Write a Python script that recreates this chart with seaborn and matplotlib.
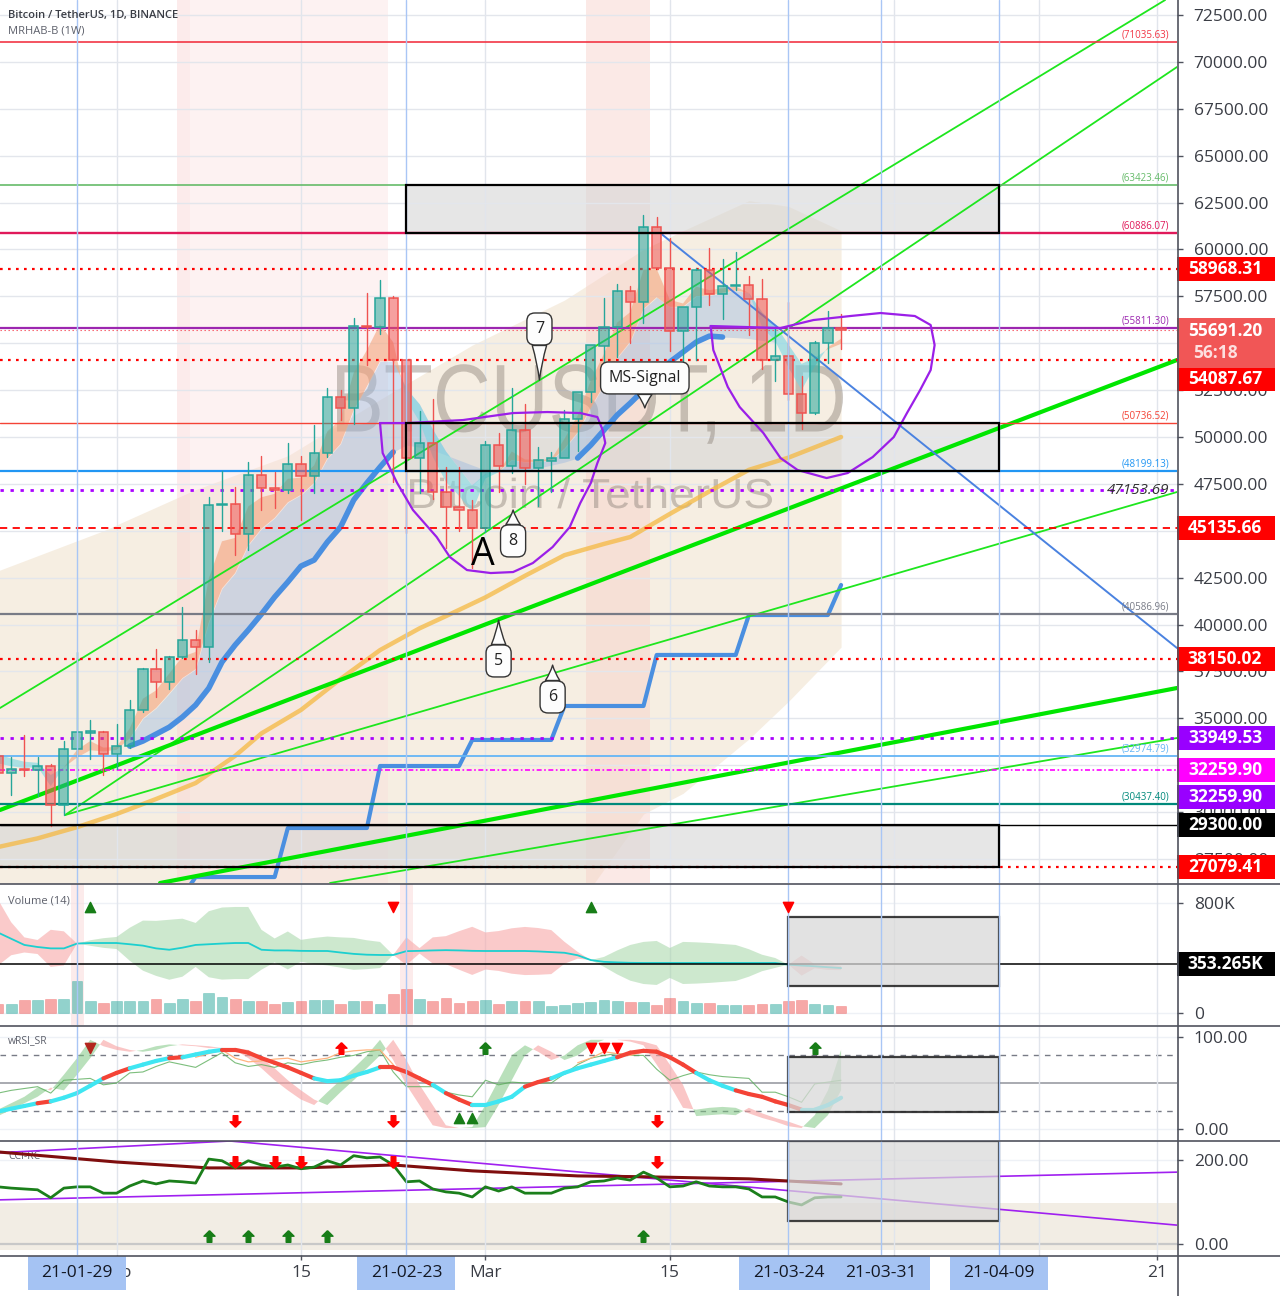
import numpy as np
import pandas as pd
import seaborn as sns
import matplotlib.pyplot as plt
from matplotlib.colors import to_rgba
from matplotlib.lines import Line2D
from matplotlib.patches import Rectangle, PathPatch
from matplotlib.path import Path
from matplotlib.textpath import TextPath
from matplotlib.font_manager import FontProperties
from matplotlib.transforms import blended_transform_factory, Affine2D

# ---------------- data (x = days counted from 2021-01-29) ----------------
days = list(range(-6, 59))          # 2021-01-23 .. 2021-03-28

opens = [32985, 32064, 32285, 32254, 32464, 30362, 33368, 34246, 34262, 33092,
         33517, 35472, 37620, 36936, 38289, 39181, 38795, 46374, 46420, 44807,
         47968, 47298, 47156, 48580, 47911, 49134, 52119, 51551, 55906, 55841,
         57413, 54087, 48891, 49676, 47057, 46277, 46104, 45135, 49595, 48437,
         50349, 48374, 48746, 48882, 50959, 52375, 54875, 55851, 57774, 57221,
         61188, 59000, 55654, 56927, 58925, 57644, 58030, 58101, 57351, 54083,
         54342, 52303, 51293, 55025, 55818]
highs = [33826, 32944, 34100, 32921, 32557, 33783, 38531, 34933, 34342, 34717,
         35984, 37662, 38708, 38310, 40955, 39700, 46794, 48200, 47310, 48678,
         48985, 48150, 49707, 49010, 50641, 52618, 52530, 56368, 57700, 58352,
         57534, 54183, 51374, 52041, 48424, 48394, 46638, 49790, 50200, 52640,
         51773, 49448, 49200, 51450, 52402, 54895, 57387, 58150, 58058, 61844,
         61724, 60633, 56938, 58999, 60100, 59468, 59880, 58592, 58430, 55830,
         57200, 53230, 55137, 56700, 56559]
lows = [31390, 30900, 31910, 30837, 29241, 29842, 31915, 32825, 32000, 32297,
        33418, 35362, 36161, 36570, 38215, 37351, 37988, 45000, 43727, 43994,
        46125, 46202, 47014, 45570, 47003, 48947, 50901, 50710, 53863, 55477,
        47622, 44892, 47003, 46674, 44106, 45000, 43000, 44950, 47047, 48100,
        47500, 46300, 47070, 48882, 49274, 51845, 53005, 54269, 55013, 56078,
        58966, 54600, 53271, 54124, 57023, 56270, 57820, 55450, 53650, 53000,
        52000, 50427, 51214, 53950, 54691]
closes = [32067, 32289, 32254, 32467, 30366, 33364, 34252, 34262, 33092, 33526,
          35466, 37618, 36936, 38290, 39186, 38795, 46375, 46420, 44807, 47969,
          47287, 47153, 48577, 47911, 49133, 52119, 51553, 55906, 55841, 57408,
          54087, 48891, 49676, 47073, 46277, 46107, 45135, 49587, 48440, 50349,
          48374, 48751, 48882, 50971, 52375, 54884, 55851, 57773, 57221, 61188,
          59000, 55655, 56927, 58925, 57644, 58030, 58102, 57351, 54083, 54340,
          52303, 51293, 55025, 55817, 55691]

# fast ribbon edges (orange when rising / cyan when falling)
rib_fast = [32600, 32450, 32350, 32410, 31390, 32380, 33320, 33790, 33440, 33480,
            34470, 36050, 36490, 37390, 38290, 38540, 42460, 44440, 44620, 46300,
            46790, 46970, 47770, 47840, 48490, 50300, 50930, 53420, 54630, 56020,
            55050, 51970, 50820, 48950, 47610, 46860, 46000, 47790, 48120, 49230,
            48800, 48780, 48830, 49900, 51140, 53010, 54430, 56100, 56660, 58920,
            58960, 57310, 57120, 58020, 57830, 57930, 58020, 57680, 55880, 55110,
            53710, 52500, 53760, 54790, 55240]
rib_slow = [33090, 32860, 32690, 32630, 31980, 32380, 32910, 33300, 33240, 33320,
            33930, 34990, 35550, 36330, 37150, 37620, 40120, 41920, 42750, 44240,
            45110, 45690, 46520, 46920, 47550, 48860, 49630, 51430, 52690, 54040,
            54050, 52580, 51750, 50410, 49230, 48340, 47420, 48040, 48150, 48780,
            48660, 48690, 48740, 49380, 50240, 51570, 52790, 54220, 55080, 56830,
            57450, 56940, 56940, 57510, 57550, 57690, 57810, 57680, 56650, 55990,
            54940, 53900, 54220, 54680, 54970]

# blue mid line (days 4..53), thick part only on days 4-24 and 38-49
mid_days = list(range(4, 54))
mid_line = [33520, 33790, 34160, 34530, 35070, 35710, 36610, 38000, 38910, 39710,
            40560, 41470, 42270, 43120, 43440, 44400, 45200, 46640, 47550, 48400,
            49200, 49570, 49460, 49300, 49040, 48770, 48500, 48240, 48130, 48130,
            48240, 48340, 48500, 48660, 48880, 49570, 50370, 51170, 51810, 52500,
            53140, 54000, 54530, 55060, 55380, 55330, 55300, 55250, 55150, 55050]
mid_shown = [(4, 24), (38, 49)]

# weekly step line
step_days = list(range(8, 59))
step_vals = [25500] + [26540] * 7 + [29155] * 7 + [32460] * 7 + [33850] * 7 + \
            [35660] * 7 + [38380] * 7 + [40510] * 7 + [42110]

# yellow slow average
sma_days = [-6, -3, 0, 3, 6, 9, 12, 14, 17, 20, 23, 26, 28, 31, 34, 37, 40, 42, 45, 48, 51, 54, 58]
sma_vals = [28140, 28600, 29200, 29900, 30700, 31550, 33000, 34200, 35450, 37100, 38640, 39800,
            40450, 41450, 42600, 43700, 44300, 44670, 45900, 47100, 48250, 48900, 50000]

# weekly cloud (beige)
cloud_days = [-7, 2, 9, 16, 23, 30, 37, 43, 46, 51, 54, 58]
cloud_top = [42600, 45000, 47200, 49000, 52000, 54900, 57300, 60000, 61000, 62600, 62300, 61000]
cloud_low = [24000, 24000, 24000, 24000, 24000, 24000, 24000, 29900, 31000, 33900, 35900, 38800]

# horizontal levels
level_prices = [71035.63, 63423.46, 60886.07, 58968.31, 55811.30, 55691.20, 54087.67, 50736.52,
                48199.13, 47153.69, 45135.66, 40586.96, 38150.02, 33949.53, 32974.79, 32259.90,
                30437.40, 29300.00, 27079.41]
level_colors = ['#f23645', '#66bb6a', '#e0195a', '#ff0000', '#9c27b0', '#f7525f', '#ff0000', '#f44336',
                '#2196f3', '#aa00ff', '#ff0000', '#787b86', '#ff0000', '#aa00ff', '#64b5f6', '#ff00ff',
                '#00897b', '#000000', '#ff0000']
level_styles = ['-', '-', '-', 'dot', '-', 'dot', 'dot', '-', '-', 'dot', 'dash', '-', 'dot', 'dot',
                '-', 'dashdot', '-', '-', 'dot']
level_widths = [1.2, 1.2, 1.7, 1.6, 1.6, 0.8, 1.6, 1.0, 1.6, 2.0, 1.3, 1.6, 1.6, 2.0, 1.3, 1.2, 1.6, 1.0, 1.6]
bracket_levels = [71035.63, 63423.46, 60886.07, 55811.30, 50736.52, 48199.13, 40586.96, 32974.79, 30437.40]

tag_prices = [58968.31, 54087.67, 45135.66, 38150.02, 33949.53, 32259.90, 32259.90, 29300.00, 27079.41]
tag_colors = ['#ff0000', '#ff0000', '#ff0000', '#ff0000', '#9900ff', '#ff00ff', '#9900ff', '#000000', '#ff0000']
tag_shift_px = [0, 19, 0, 0, 0, 0, 27, 0, 0]
last_price = 55691.20
countdown = '56:18'

# trend lines: (day0, price0, day1, price1)
green_thin = [(-5.85, 35552, 82.6, 73300), (-0.91, 29847, 83.5, 69728),
              (-0.91, 29847, 83.5, 47068), (19.2, 26222, 83.5, 33952)]
green_thick = [(-5.85, 30114, 83.5, 54106), (6.3, 26222, 83.5, 36618)]
blue_trend = (44.27, 60877, 83.5, 38750)

# boxes: (day0, day1, low, high)
price_boxes = [(25, 70, 60886.07, 63423.46), (25, 70, 48199.13, 50736.52), (-8, 70, 27079.41, 29300.00)]

# hand drawn loops
loop1_days = [23.0, 25.1, 29.3, 33.1, 35.7, 38.2, 39.5, 39.9, 40.1, 39.5, 39.0, 38.2, 37.4, 36.1,
              34.6, 33.1, 31.4, 29.6, 28.3, 27.3, 25.5, 24.3, 23.2, 23.0]
loop1_prices = [50745, 50745, 50905, 51278, 51332, 51278, 51065, 50372, 49679, 48613, 47546, 46480,
                45200, 44134, 43281, 42801, 42748, 42907, 43601, 44667, 46107, 47546, 49146, 50745]
loop2_days = [48.1, 53.4, 55.9, 58.7, 61.0, 63.6, 64.8, 65.1, 64.8, 64.0, 63.0, 62.0, 60.4, 58.5,
              56.9, 54.7, 53.4, 52.1, 50.3, 49.4, 48.3, 48.1]
loop2_prices = [55918, 55811, 56237, 56451, 56611, 56451, 55971, 54904, 53571, 52505, 51278, 49999,
                48933, 48080, 47813, 48240, 48880, 50213, 51599, 52666, 54638, 55918]

# callouts
callout_text = ['7', '8', '5', '6', 'MS-Signal']
callout_tip_day = [35.1, 33.1, 32.0, 36.1, 43.1]
callout_tip_price = [53040, 46110, 40240, 37840, 51550]
callout_box_price = [55760, 44460, 38060, 36140, 53150]

# volume panel (thousands)
volume_k = [65, 63, 92, 92, 100, 100, 233, 90, 70, 85,
            85, 85, 100, 70, 104, 85, 143, 116, 100, 90,
            90, 65, 78, 85, 95, 95, 65, 85, 85, 65,
            138, 175, 100, 85, 111, 70, 85, 92, 65, 85,
            85, 85, 51, 58, 70, 78, 95, 85, 78, 81,
            58, 109, 85, 70, 72, 58, 56, 56, 65, 65,
            85, 95, 65, 56, 48]
vol_ma = [585, 540, 495, 480, 470, 470, 505, 509, 509, 509,
          500, 490, 470, 460, 475, 495, 500, 505, 509, 509,
          460, 455, 455, 452, 451, 451, 440, 430, 424, 422,
          422, 450, 452, 455, 457, 455, 452, 451, 451, 451,
          451, 448, 443, 438, 420, 385, 372, 368, 365, 364,
          364, 364, 364, 364, 364, 364, 364, 364, 364, 364,
          352, 345, 340, 333, 327]
vol_dev = [240, 120, 55, 51, 135, 124, 0, 20, 35, 44,
           120, 182, 200, 218, 211, 160, 240, 262, 262, 262,
           145, 87, 138, 80, 95, 105, 110, 116, 105, 95,
           0, 100, 20, 95, 102, 140, 175, 135, 145, 165,
           175, 170, 160, 80, 25, 0, 36, 87, 130, 153,
           160, 109, 153, 150, 145, 138, 131, 100, 60, 36,
           0, 73, 15, 20, 15]
vol_side = 'r' * 6 + 'x' + 'g' * 23 + 'x' + 'r' * 14 + 'x' + 'g' * 14 + 'x' + 'r' * 4
vol_last = 353.265

# wRSI panel
wrsi_line = [19, 22, 25, 28, 30, 34, 39, 47, 55, 61, 66, 70, 74, 77, 78, 81, 84, 86, 86, 83,
             77, 72, 67, 61, 55, 52, 53, 58, 62, 67, 67, 62, 55, 48, 39, 32, 26, 26, 30, 35,
             46, 51, 55, 61, 66, 70, 74, 78, 83, 85, 84, 78, 70, 61, 53, 47, 42, 38, 35, 30,
             26, 21, 21, 26, 34]
wrsi_red_spans = [(-3, -2), (2, 4), (7, 8), (11, 18), (23, 27), (28, 30), (34, 36), (41, 47), (50, 55)]
wrsi_fast = [21, 28, 35, 45, 42, 59, 77, 97, 90, 86, 84, 86, 90, 92, 91, 90, 88, 88, 86, 77,
             66, 53, 42, 32, 26, 40, 53, 66, 80, 97, 75, 48, 26, 4, 1, 1, 2, 26, 53, 80,
             91, 84, 75, 80, 91, 97, 97, 97, 95, 91, 70, 48, 23, 21, 23, 24, 23, 17, 12, 8,
             3, 1, 15, 42, 86]
wrsi_slow = [14, 21, 28, 35, 45, 42, 59, 77, 97, 90, 86, 84, 86, 90, 92, 91, 90, 88, 88, 86,
             77, 66, 53, 42, 32, 26, 40, 53, 66, 80, 97, 75, 48, 26, 4, 1, 1, 2, 26, 53,
             80, 91, 84, 75, 80, 91, 97, 97, 97, 95, 91, 70, 48, 14, 15, 16, 15, 23, 17, 12,
             8, 3, 1, 15, 42]
wrsi_thin = [39, 42, 44, 46, 39, 53, 54, 55, 48, 50, 61, 62, 68, 73, 70, 67, 75, 83, 72, 68,
             70, 67, 72, 70, 73, 75, 78, 80, 84, 86, 62, 46, 46, 46, 40, 37, 35, 53, 48, 51,
             50, 50, 50, 60, 70, 77, 80, 82, 80, 80, 65, 53, 58, 62, 59, 57, 56, 55, 40, 40,
             35, 29, 49, 51, 53]
orange_days_a = list(range(9, 25))
orange_vals_a = [78, 82, 86, 77, 73, 74, 76, 77, 73, 75, 77, 83, 85, 86, 86, 70]
orange_days_b = list(range(38, 45))
orange_vals_b = [72, 77, 84, 82, 80, 84, 86]

# CCI panel
cci = [136, 133, 131, 129, 110, 133, 136, 136, 121, 121, 138, 150, 143, 150, 148, 145, 202, 198, 181, 198,
       188, 183, 188, 179, 183, 198, 188, 210, 205, 207, 188, 148, 150, 131, 124, 121, 112, 136, 126, 136,
       121, 121, 121, 133, 136, 148, 150, 157, 152, 171, 157, 136, 138, 148, 138, 136, 136, 131, 112, 112,
       100, 93, 110, 112, 112]
cci_slow_days = [-6, 3, 10, 17, 24, 30, 38, 43, 51, 58]
cci_slow = [219, 195, 181, 181, 188, 174, 162, 160, 155, 143]
cci_trend = [(-6, 217, 11.6, 245), (11.6, 245, 83.5, 45), (-6, 105, 83.5, 171)]

# signal markers
vol_up_days, vol_dn_days = [1, 39], [24, 54]
rsi_red_up, rsi_red_dn, rsi_green_up = [20], [12, 24, 44], [31, 56]
rsi_tri_up, rsi_tri_dn, rsi_tri_dark = [29, 30], [39, 40, 41], [1]
cci_red_dn, cci_green_up = [12, 15, 17, 24, 44], [10, 13, 16, 19, 43]

blue_vlines = [0, 25, 54, 61, 70]
grid_days = [3, 17, 31, 45, 62, 73, 82]
grid_labels = ['Feb', '15', 'Mar', '15', '', '', '21']
sel_labels = ['21-01-29', '21-02-23', '21-03-24', '21-03-31', '21-04-09']

# ---------------- style ----------------
sns.set_style('white')
plt.rcParams['font.family'] = ['Open Sans', 'DejaVu Sans']
UP, DN = '#26a69a', '#ef5350'
AXC = '#3a3d45'

fig = plt.figure(figsize=(12.8, 12.96), dpi=100)
FW, FH = 1280, 1296


def panel(top, bottom):
    return fig.add_axes([0, 1 - bottom / FH, 1177 / FW, (bottom - top) / FH])


ax = panel(0, 883)
axv = panel(884, 1025)
axr = panel(1026, 1140)
axc = panel(1141, 1255)

for a in (ax, axv, axr, axc):
    a.set_xlim(-5.85, 83.5)
    for s in a.spines.values():
        s.set_visible(False)
    a.yaxis.tick_right()
    a.tick_params(axis='y', length=4, width=1, color='#50535e', pad=8, labelsize=12.5, labelcolor=AXC)
    a.tick_params(axis='x', bottom=False, labelbottom=False)
    for d in grid_days:
        a.axvline(d, color='#e1e5ec', lw=1, zorder=1.5)
    for d in blue_vlines:
        a.axvline(d, color='#a9c6f5', lw=1, zorder=6.8)

# ---------------- main price panel ----------------
ax.set_ylim(26222, 73300)
PX = (73300 - 26222) / 883.0          # price per pixel
yt = np.arange(27500, 72501, 2500)
ax.set_yticks(yt)
ax.set_yticklabels([f'{v:.2f}' for v in yt])
for v in yt:
    ax.axhline(v, color='#e3e6ec', lw=1, zorder=1.5)

ax.fill_between(cloud_days, cloud_low, cloud_top, color='#f1e3cf', alpha=0.6, lw=0, zorder=0.6)
ax.axvspan(7.6, 8.6, color='#f9d4d4', alpha=0.45, lw=0, zorder=0.7)
ax.axvspan(8.6, 23.6, color='#fbdcdc', alpha=0.35, lw=0, zorder=0.7)
ax.axvspan(38.6, 43.5, color='#f7cfc8', alpha=0.45, lw=0, zorder=0.7)

for d0, d1, lo, hi in price_boxes:
    ax.add_patch(Rectangle((d0, lo), d1 - d0, hi - lo, fc='#d6d6d6', alpha=0.6, ec='none', zorder=1))
    ax.add_patch(Rectangle((d0, lo), d1 - d0, hi - lo, fc='none', ec='black', lw=1.6, zorder=8))


def watermark(text, cx, cy, width_px, cap_px):
    tp = TextPath((0, 0), text, size=1, prop=FontProperties(family='Liberation Sans'))
    bb = tp.get_extents()
    sx = (width_px / 1177) / bb.width
    sy = (cap_px / 883) / 0.716
    tr = Affine2D().translate(-(bb.x0 + bb.width / 2), -0.358).scale(sx, sy).translate(cx, cy) + ax.transAxes
    ax.add_patch(PathPatch(tp, transform=tr, fc='#8c8279', ec='none', alpha=0.45, zorder=2))


watermark('BTCUSDT, 1D', 590 / 1177, 1 - 397 / 883, 506, 69)
watermark('Bitcoin / TetherUS', 591 / 1177, 1 - 493 / 883, 362, 30)

fast = np.array(rib_fast)
slow = np.array(rib_slow)
ax.fill_between(days, fast, slow, where=fast >= slow, interpolate=True, color='#f4a47c', alpha=0.6, lw=0, zorder=2.2)
ax.fill_between(days, fast, slow, where=fast < slow, interpolate=True, color='#7ad6e3', alpha=0.6, lw=0, zorder=2.2)
slow_mid = [rib_slow[days.index(d)] for d in mid_days]
ax.fill_between(mid_days, mid_line, slow_mid, color='#9ebbe0', alpha=0.45, lw=0, zorder=2.1)
for a0, a1 in mid_shown:
    i0, i1 = mid_days.index(a0), mid_days.index(a1) + 1
    ax.plot(mid_days[i0:i1], mid_line[i0:i1], color='#4a8fe0', lw=4, solid_capstyle='round', zorder=3)

sns.lineplot(x=sma_days, y=sma_vals, ax=ax, color='#f5b942', alpha=0.75, lw=3.2, zorder=3, legend=False)
ax.plot(step_days, step_vals, color='#4a8fe0', lw=3, zorder=3.5)

for d0, p0, d1, p1 in green_thin:
    ax.plot([d0, d1], [p0, p1], color='#1ee61e', lw=1.3, zorder=4)
for d0, p0, d1, p1 in green_thick:
    ax.plot([d0, d1], [p0, p1], color='#00e600', lw=3, zorder=4)
ax.plot([blue_trend[0], blue_trend[2]], [blue_trend[1], blue_trend[3]], color='#4a82e0', lw=1.4, zorder=4)

dash_map = {'-': '-', 'dot': (0, (1.2, 2.4)), 'dash': (0, (4, 3)), 'dashdot': (0, (3, 1.5, 1, 1.5))}
for p, c, s, w in zip(level_prices, level_colors, level_styles, level_widths):
    ax.axhline(p, color=c, ls=dash_map[s], lw=w, zorder=4.5)
tr_lab = blended_transform_factory(ax.transAxes, ax.transData)
for p in bracket_levels:
    c = level_colors[level_prices.index(p)]
    ax.text(0.9935, p + 1.5 * PX, f'({p:.2f})', transform=tr_lab, ha='right', va='bottom',
            fontsize=7, color=c, zorder=9)
ax.text(0.9935, 47153.69, '47153.69', transform=tr_lab, ha='right', va='center',
        fontsize=11, style='italic', color='#333333', zorder=9)

# candles
for d, o, h, l, c in zip(days, opens, highs, lows, closes):
    col = UP if c >= o else DN
    top, bot = max(o, c), min(o, c)
    ax.plot([d, d], [top, h], color=col, lw=1, zorder=6)
    ax.plot([d, d], [l, bot], color=col, lw=1, zorder=6)
    ax.add_patch(Rectangle((d - 0.35, bot), 0.7, max(top - bot, 60), fc=to_rgba(col, 0.55),
                           ec=col, lw=1.1, zorder=6.5))

ax.plot(loop1_days, loop1_prices, color='#9b1fe8', lw=1.6, zorder=7)
ax.plot(loop2_days, loop2_prices, color='#9b1fe8', lw=1.6, zorder=7)

for t, td, tp, bp in zip(callout_text, callout_tip_day, callout_tip_price, callout_box_price):
    ax.annotate(t, xy=(td, tp), xytext=(td, bp), ha='center', va='center', fontsize=11.5, color='#222',
                bbox=dict(boxstyle='round,pad=0.5', fc='#fdfdfd', ec='#333', lw=1),
                arrowprops=dict(arrowstyle='wedge,tail_width=0.9,shrink_factor=0.4', fc='#fdfdfd',
                                ec='#333', lw=1, shrinkA=0, shrinkB=0), zorder=10)
ax.text(30.8, 43700, 'A', ha='center', va='center', fontsize=27, color='black', zorder=10)

ax.text(0.0068, 0.983, 'Bitcoin / TetherUS, 1D, BINANCE', transform=ax.transAxes, fontsize=8,
        fontweight='semibold', color='#3a3d45', va='center', zorder=12)
ax.text(0.0068, 0.965, 'MRHAB-B (1W)', transform=ax.transAxes, fontsize=8, color='#5d606b',
        va='center', zorder=12)


def tag(a, y, text, color, half_h, fs=12.5):
    tr = blended_transform_factory(a.transAxes, a.transData)
    a.add_patch(Rectangle((1.0, y - half_h), 98 / 1177, 2 * half_h, transform=tr, fc=color,
                          ec='none', clip_on=False, zorder=30))
    a.text(1.0 + 48 / 1177, y, text, transform=tr, ha='center', va='center', color='white',
           fontsize=fs, fontweight='bold', zorder=31, clip_on=False)


for p, c, sh in zip(tag_prices, tag_colors, tag_shift_px):
    tag(ax, p - sh * PX, f'{p:.2f}', c, 12 * PX)
trm = blended_transform_factory(ax.transAxes, ax.transData)
ax.add_patch(Rectangle((1.0, last_price - 38 * PX), 98 / 1177, 50 * PX, transform=trm, fc='#f15656',
                       ec='none', clip_on=False, zorder=30))
ax.text(1.0 + 48 / 1177, last_price - 0.5 * PX, f'{last_price:.2f}', transform=trm, ha='center',
        va='center', color='white', fontsize=12.5, fontweight='bold', zorder=31, clip_on=False)
ax.text(1.0 + 38 / 1177, last_price - 23 * PX, countdown, transform=trm, ha='center', va='center',
        color='#fde0e0', fontsize=12.5, fontweight='bold', zorder=31, clip_on=False)

# ---------------- volume panel ----------------
axv.set_ylim(-87, 938)
axv.set_yticks([0, 800])
axv.set_yticklabels(['0', '800K'])
axv.axhline(800, color='#eef1f6', lw=1, zorder=0)
axv.axhline(0, color='#eef1f6', lw=1, zorder=0)
axv.axvspan(-0.45, 0.5, color='#fbdcdc', alpha=0.55, lw=0, zorder=0.6)
axv.axvspan(24.55, 25.5, color='#fbdcdc', alpha=0.55, lw=0, zorder=0.6)
vcols = [UP if c >= o else DN for o, c in zip(opens, closes)]
axv.bar(days, volume_k, width=0.82, color=[to_rgba(c, 0.5) for c in vcols],
        edgecolor=[to_rgba(c, 0.35) for c in vcols], lw=0.6, zorder=2)
ma = np.array(vol_ma)
dev = np.array(vol_dev)
g_mask = np.array([s in 'gx' for s in vol_side])
r_mask = np.array([s in 'rx' for s in vol_side])
axv.fill_between(days, ma - dev, ma + dev, where=g_mask, color='#a5d6a7', alpha=0.55, lw=0, zorder=1.5)
axv.fill_between(days, ma - dev, ma + dev, where=r_mask, color='#f7a8a8', alpha=0.6, lw=0, zorder=1.5)
sns.lineplot(x=days, y=vol_ma, ax=axv, color='#1ccfcf', lw=1.3, zorder=3, legend=False)
axv.axhline(vol_last, color='black', lw=1.1, zorder=4)
axv.add_patch(Rectangle((54, 196), 16, 502, fc='#d9d9d9', alpha=0.75, ec='black', lw=1.6, zorder=5))
axv.scatter(vol_up_days, [770] * len(vol_up_days), marker='^', s=55, color='#177d17', zorder=7)
axv.scatter(vol_dn_days, [770] * len(vol_dn_days), marker='v', s=55, color='#ff0000', zorder=7)
axv.text(0.0068, 0.88, 'Volume (14)', transform=axv.transAxes, fontsize=8, color='#5d606b', va='center')
tag(axv, vol_last, f'{vol_last:.3f}K', '#000000', 12 / 0.1375)

# ---------------- wRSI panel ----------------
up_arrow = Path([(0, 1), (0.95, 0.05), (0.4, 0.05), (0.4, -1), (-0.4, -1), (-0.4, 0.05), (-0.95, 0.05), (0, 1)])
dn_arrow = Path([(x, -y) for x, y in up_arrow.vertices])

axr.set_ylim(-12, 112)
axr.set_yticks([0, 100])
axr.set_yticklabels(['0.00', '100.00'])
axr.axhline(100, color='#eef1f6', lw=1, zorder=0)
axr.axhline(0, color='#eef1f6', lw=1, zorder=0)
axr.axhline(80, color='#787b86', lw=1, ls=(0, (4, 4)), zorder=1)
axr.axhline(20, color='#787b86', lw=1, ls=(0, (4, 4)), zorder=1)
axr.axhline(50, color='#9a9ca3', lw=1.2, zorder=1)
wf = np.array(wrsi_fast)
ws = np.array(wrsi_slow)
axr.fill_between(days, wf, ws, where=wf >= ws, interpolate=True, color='#81c784', alpha=0.55, lw=0, zorder=2)
axr.fill_between(days, wf, ws, where=wf < ws, interpolate=True, color='#f8a0a0', alpha=0.6, lw=0, zorder=2)
axr.plot(days, wrsi_thin, color='#5cae5c', lw=0.8, alpha=0.8, zorder=3)
axr.plot(orange_days_a, orange_vals_a, color='#ffb37f', lw=0.9, zorder=3)
axr.plot(orange_days_b, orange_vals_b, color='#ffb37f', lw=0.9, zorder=3)
red_days = set()
for a0, a1 in wrsi_red_spans:
    red_days.update(range(a0, a1))
for i in range(len(days) - 1):
    col = '#f44336' if days[i] in red_days else '#3fe6f2'
    axr.plot(days[i:i + 2], wrsi_line[i:i + 2], color=col, lw=3, solid_capstyle='round', zorder=4)
axr.add_patch(Rectangle((54, 18.5), 16, 59.8, fc='#d9d9d9', alpha=0.75, ec='black', lw=1.6, zorder=5))
axr.scatter(rsi_red_up, [88] * len(rsi_red_up), marker=up_arrow, s=70, color='#ff0000', zorder=7)
axr.scatter(rsi_green_up, [88] * len(rsi_green_up), marker=up_arrow, s=70, color='#177d17', zorder=7)
axr.scatter(rsi_red_dn, [9] * len(rsi_red_dn), marker=dn_arrow, s=70, color='#ff0000', zorder=7)
axr.scatter(rsi_tri_up, [12] * len(rsi_tri_up), marker='^', s=55, color='#177d17', zorder=7)
axr.scatter(rsi_tri_dn, [88] * len(rsi_tri_dn), marker='v', s=55, color='#ff0000', zorder=7)
axr.scatter(rsi_tri_dark, [88] * len(rsi_tri_dark), marker='v', s=55, color='#b3261e', zorder=7)
axr.text(0.0068, 0.87, 'wRSI_SR', transform=axr.transAxes, fontsize=7.5, color='#5d606b', va='center')

# ---------------- CCI panel ----------------
axc.set_ylim(-26, 245)
axc.set_yticks([0, 200])
axc.set_yticklabels(['0.00', '200.00'])
axc.axhline(200, color='#eef1f6', lw=1, zorder=0)
axc.axhspan(-14, 98, color='#f2ede4', lw=0, zorder=0.4)
axc.axhline(0, color='#c8c8c8', lw=1.6, zorder=0.8)
for d0, v0, d1, v1 in cci_trend:
    axc.plot([d0, d1], [v0, v1], color='#a020f0', lw=1.2, zorder=2)
sns.lineplot(x=cci_slow_days, y=cci_slow, ax=axc, color='#7f0e0e', lw=2.2, zorder=3, legend=False)
sns.lineplot(x=days, y=cci, ax=axc, color='#1b7f1b', lw=2, zorder=4, legend=False)
axc.add_patch(Rectangle((54, 55), 16, 190, fc='#d9d9d9', alpha=0.72, ec='black', lw=1.6, zorder=5))
axc.scatter(cci_red_dn, [195] * len(cci_red_dn), marker=dn_arrow, s=70, color='#ff0000', zorder=7)
axc.scatter(cci_green_up, [19] * len(cci_green_up), marker=up_arrow, s=70, color='#177d17', zorder=7)
axc.text(0.0068, 0.86, 'CCI-RC', transform=axc.transAxes, fontsize=7.5, color='#5d606b', va='center', zorder=1)

# bottom time axis
axc.set_xticks(grid_days)
axc.set_xticklabels(grid_labels)
axc.tick_params(axis='x', bottom=True, labelbottom=True, length=3.5, width=1, color='#50535e',
                pad=4, labelsize=12.5, labelcolor=AXC)
trb = blended_transform_factory(axc.transData, axc.transAxes)
for d, lab in zip(blue_vlines, sel_labels):
    axc.add_patch(Rectangle((d - 3.72, -35 / 114), 7.44, 34 / 114, transform=trb, fc='#a5c3f3',
                            ec='none', clip_on=False, zorder=20))
    axc.text(d, -18 / 114, lab, transform=trb, ha='center', va='center', fontsize=12.5,
             color='#131722', zorder=21, clip_on=False)

# separators and price scale border
for y in (883.5, 1025.5, 1140.5, 1255.5):
    fig.add_artist(Line2D([0, 1], [1 - y / FH, 1 - y / FH], transform=fig.transFigure, color='#50535e', lw=1.2))
fig.add_artist(Line2D([1177.5 / FW, 1177.5 / FW], [0, 1], transform=fig.transFigure, color='#50535e', lw=1.2))

fig.savefig('out.png', dpi=100)
